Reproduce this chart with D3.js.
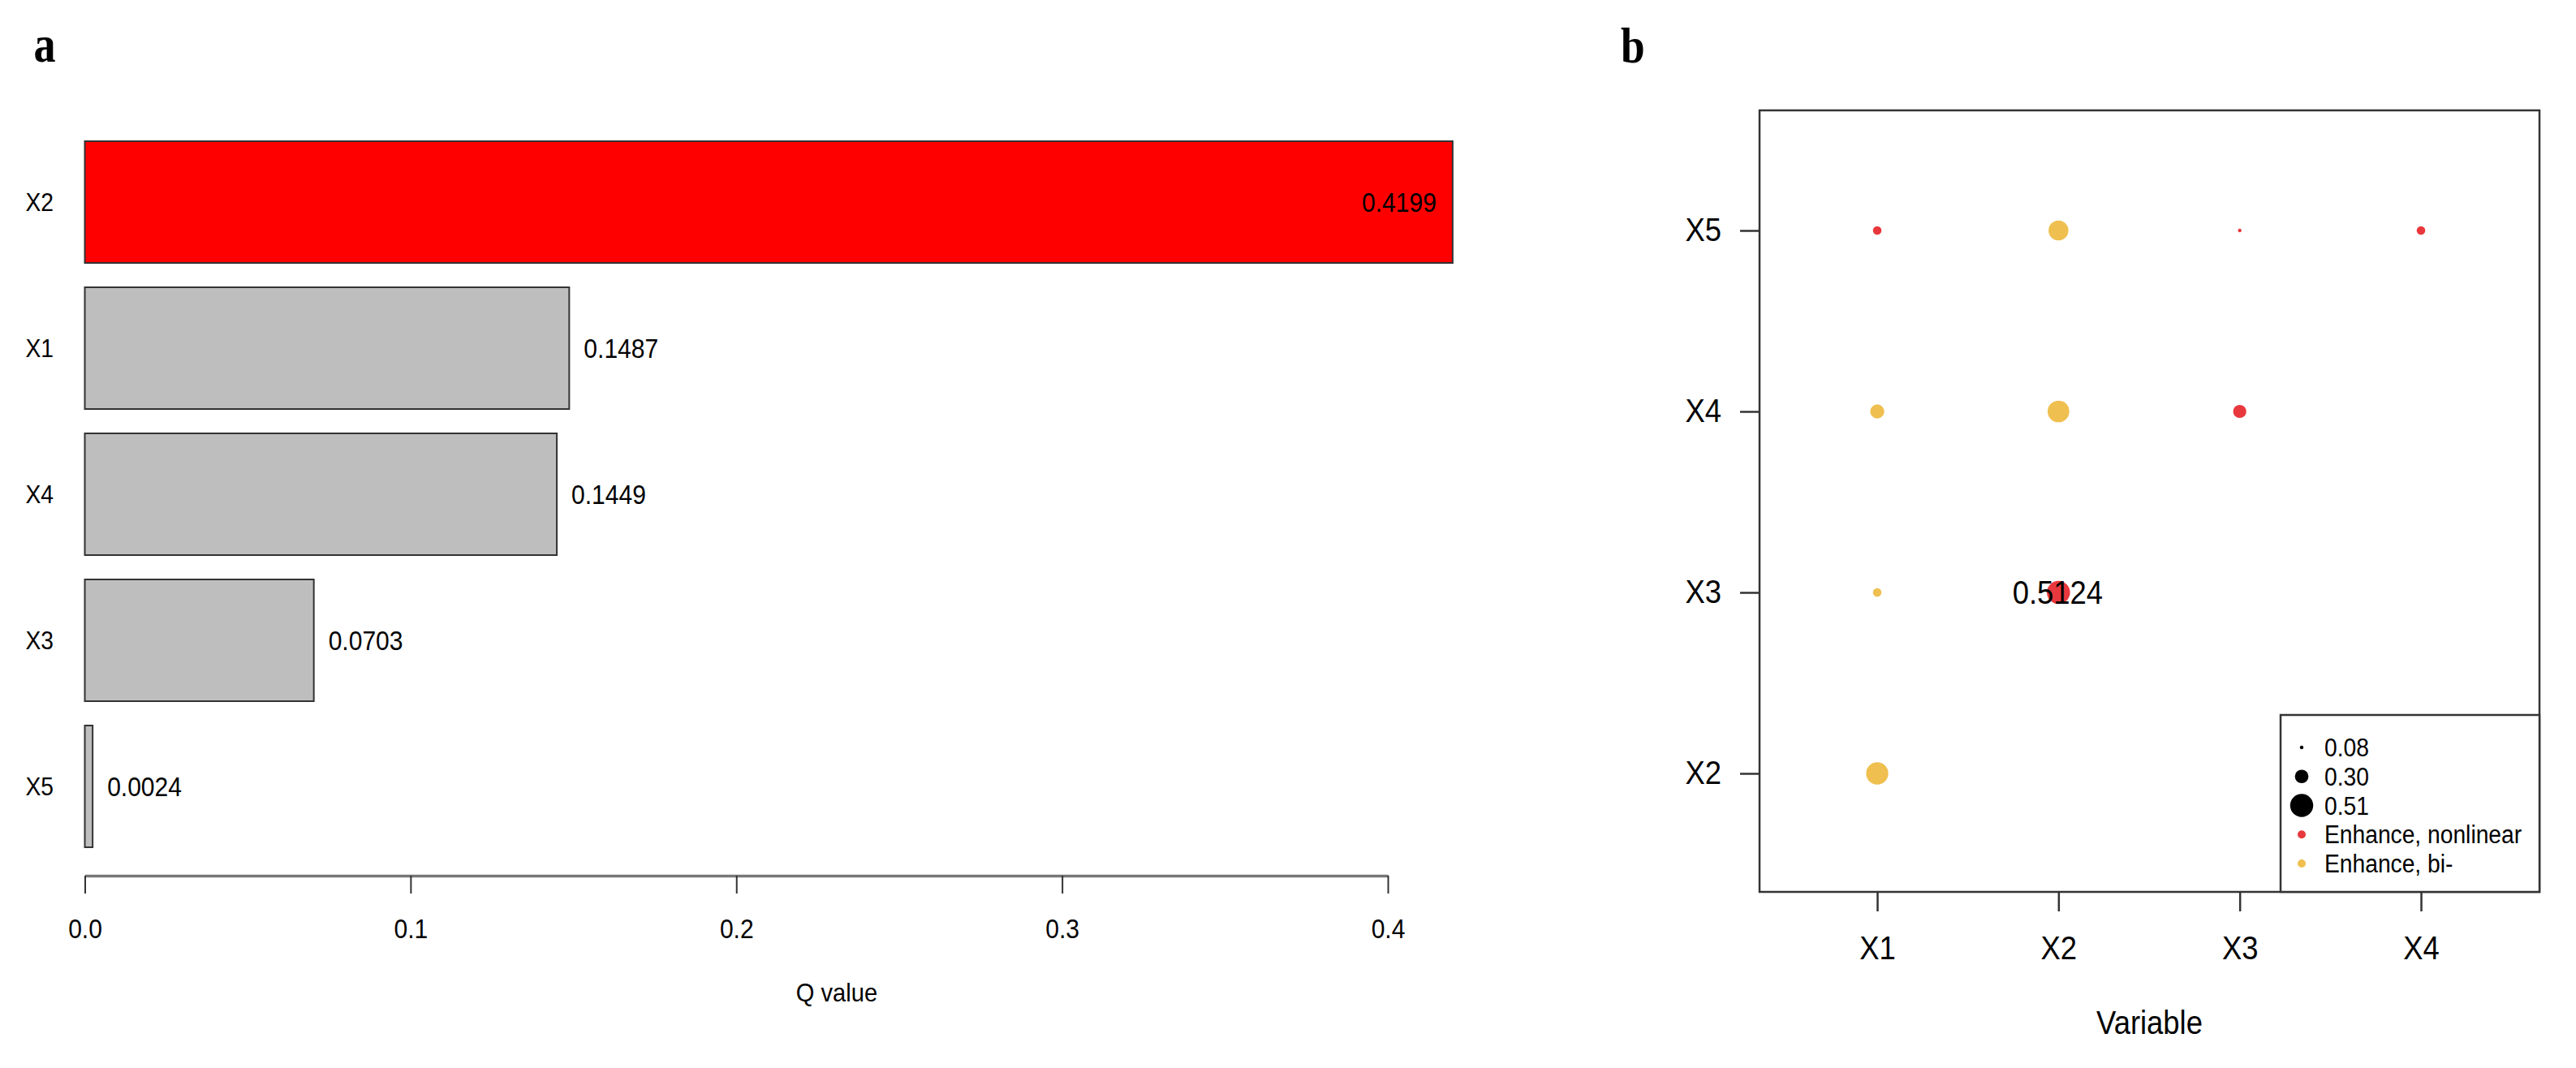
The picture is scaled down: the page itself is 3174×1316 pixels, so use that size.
<!DOCTYPE html>
<html>
<head>
<meta charset="utf-8">
<script src="https://cdn.jsdelivr.net/npm/d3@7"></script>
<style>
  body { margin: 0; background: #fff; }
  text { font-family: "Liberation Sans", Arial, sans-serif; fill: #000; }
  .panel-tag { font-family: "Liberation Serif", "Times New Roman", serif; font-weight: bold; }
</style>
</head>
<body>
<svg id="chart" width="3174" height="1316"></svg>
<script>
// panel a: factor detector q values, top to bottom
const factors = ["X2", "X1", "X4", "X3", "X5"];
const qValues = [0.4199, 0.1487, 0.1449, 0.0703, 0.0024];
const qTicks = [0, 0.1, 0.2, 0.3, 0.4];

// panel b: interaction detector
const varsX = ["X1", "X2", "X3", "X4"];
const varsY = ["X2", "X3", "X4", "X5"];
const pairX = ["X1", "X1", "X1", "X1", "X2", "X2", "X2", "X3", "X3", "X4"];
const pairY = ["X2", "X3", "X4", "X5", "X3", "X4", "X5", "X4", "X5", "X5"];
const pairQ = [0.49, 0.19, 0.31, 0.19, 0.5124, 0.48, 0.44, 0.29, 0.08, 0.19];
const pairType = ["bi", "bi", "bi", "nl", "nl", "bi", "bi", "nl", "nl", "nl"];
const legendSizes = [0.08, 0.30, 0.51];
const legendTypes = ["nl", "bi"];
const legendTypeLabels = ["Enhance, nonlinear", "Enhance, bi-"];

const svg = d3.select("#chart");
const typeColor = d3.scaleOrdinal().domain(["nl", "bi"]).range(["#E8383D", "#EFBF4F"]);

// the original text is a little narrower than Liberation Sans
function squeeze(sel, f) {
  sel.each(function () {
    const len = this.getComputedTextLength();
    d3.select(this).attr("textLength", len * f).attr("lengthAdjust", "spacingAndGlyphs");
  });
}

// ---------- panel a ----------
const pa = svg.append("g");

pa.append("text").attr("class", "panel-tag")
  .attr("x", 55).attr("y", 76)
  .attr("text-anchor", "middle")
  .style("font-size", "63px")
  .text("a");

const x = d3.scaleLinear().domain([0, 0.4]).range([104.5, 1710]);
const y = d3.scaleBand().domain(factors).range([159, 1059])
  .paddingInner(1 / 6).paddingOuter(1 / 12);

const barData = factors.map((f, i) => ({ f: f, q: qValues[i] }));
const maxQ = d3.max(qValues);

pa.selectAll("rect.bar").data(barData)
  .join("rect")
  .attr("class", "bar")
  .attr("x", x(0))
  .attr("y", d => y(d.f))
  .attr("width", d => x(d.q) - x(0))
  .attr("height", y.bandwidth())
  .attr("fill", d => d.q === maxQ ? "#FF0000" : "#BEBEBE")
  .attr("stroke", "#333")
  .attr("stroke-width", 2);

// value labels: inside the longest bar, beside the others
pa.selectAll("text.val").data(barData)
  .join("text")
  .attr("class", "val")
  .attr("x", d => d.q === maxQ ? x(d.q) - 20 : x(d.q) + 18)
  .attr("y", d => y(d.f) + y.bandwidth() / 2)
  .attr("dy", "0.36em")
  .attr("text-anchor", d => d.q === maxQ ? "end" : "start")
  .style("font-size", "33px")
  .text(d => d.q.toFixed(4));

// category labels
pa.selectAll("text.cat").data(factors)
  .join("text")
  .attr("class", "cat")
  .attr("x", 66)
  .attr("y", d => y(d) + y.bandwidth() / 2)
  .attr("dy", "0.36em")
  .attr("text-anchor", "end")
  .style("font-size", "31px")
  .text(d => d);

const xAxis = pa.append("g")
  .attr("transform", "translate(0,1079)")
  .call(d3.axisBottom(x).tickValues(qTicks).tickFormat(d3.format(".1f"))
    .tickSize(22).tickSizeOuter(0).tickPadding(32));
xAxis.select(".domain").attr("stroke", "#777").attr("stroke-width", 3.5);
xAxis.selectAll(".tick line").attr("stroke", "#333").attr("stroke-width", 2);
xAxis.selectAll(".tick text").style("font-size", "33px")
  .style("font-family", "'Liberation Sans', Arial, sans-serif").attr("fill", "#000");

pa.append("text")
  .attr("x", 1031).attr("y", 1234)
  .attr("text-anchor", "middle")
  .style("font-size", "32px")
  .text("Q value");

// ---------- panel b ----------
const pb = svg.append("g");

pb.append("text").attr("class", "panel-tag")
  .attr("x", 1997).attr("y", 77)
  .style("font-size", "62px")
  .text("b");

const box = { x0: 2168, x1: 3129, y0: 136, y1: 1099 };
const bx = d3.scalePoint().domain(varsX).range([2313, 2983]);
const by = d3.scalePoint().domain(varsY).range([953, 284]);
const r = d3.scaleLinear().domain([0, 0.51]).range([0, 14.2]);

const pairs = pairX.map((px, i) => ({ x: px, y: pairY[i], q: pairQ[i], t: pairType[i] }));
const maxPair = d3.max(pairQ);

pb.selectAll("circle.pt").data(pairs)
  .join("circle")
  .attr("class", "pt")
  .attr("cx", d => bx(d.x))
  .attr("cy", d => by(d.y))
  .attr("r", d => r(d.q))
  .attr("fill", d => typeColor(d.t));

pb.selectAll("text.maxlab").data(pairs.filter(d => d.q === maxPair))
  .join("text")
  .attr("class", "maxlab")
  .attr("x", d => bx(d.x) - 1)
  .attr("y", d => by(d.y))
  .attr("dy", "0.36em")
  .attr("text-anchor", "middle")
  .style("font-size", "40px")
  .text(d => d.q.toFixed(4));

pb.append("rect")
  .attr("x", box.x0).attr("y", box.y0)
  .attr("width", box.x1 - box.x0).attr("height", box.y1 - box.y0)
  .attr("fill", "none").attr("stroke", "#333").attr("stroke-width", 2.5);

const bxAxis = pb.append("g")
  .attr("transform", `translate(0,${box.y1})`)
  .call(d3.axisBottom(bx).tickSize(24).tickPadding(31));
const byAxis = pb.append("g")
  .attr("transform", `translate(${box.x0},0)`)
  .call(d3.axisLeft(by).tickSize(24).tickPadding(23));
[bxAxis, byAxis].forEach(a => {
  a.select(".domain").remove();
  a.selectAll(".tick line").attr("stroke", "#333").attr("stroke-width", 2.5);
  a.selectAll(".tick text").style("font-size", "40px")
    .style("font-family", "'Liberation Sans', Arial, sans-serif").attr("fill", "#000");
});

pb.append("text")
  .attr("x", (box.x0 + box.x1) / 2).attr("y", 1274)
  .attr("text-anchor", "middle")
  .style("font-size", "40px")
  .text("Variable");

// legend
const lg = pb.append("g");
lg.append("rect")
  .attr("x", 2810).attr("y", 881)
  .attr("width", box.x1 - 2810).attr("height", box.y1 - 881)
  .attr("fill", "#fff").attr("stroke", "#333").attr("stroke-width", 2.5);

const legendRows = legendSizes.map(s => ({ label: s.toFixed(2), r: r(s), color: "#000" }))
  .concat(legendTypes.map((t, i) => ({ label: legendTypeLabels[i], r: 5, color: typeColor(t) })));
const rowY = d3.scalePoint().domain(d3.range(legendRows.length)).range([921, 1064]);

lg.selectAll("circle").data(legendRows)
  .join("circle")
  .attr("cx", 2836)
  .attr("cy", (d, i) => rowY(i))
  .attr("r", d => d.r)
  .attr("fill", d => d.color);

lg.selectAll("text").data(legendRows)
  .join("text")
  .attr("x", 2864)
  .attr("y", (d, i) => rowY(i))
  .attr("dy", "0.36em")
  .style("font-size", "31px")
  .text(d => d.label);

squeeze(svg.selectAll("text:not(.panel-tag)"), 0.91);
squeeze(svg.selectAll("text.panel-tag"), 0.86);
</script>
</body>
</html>
